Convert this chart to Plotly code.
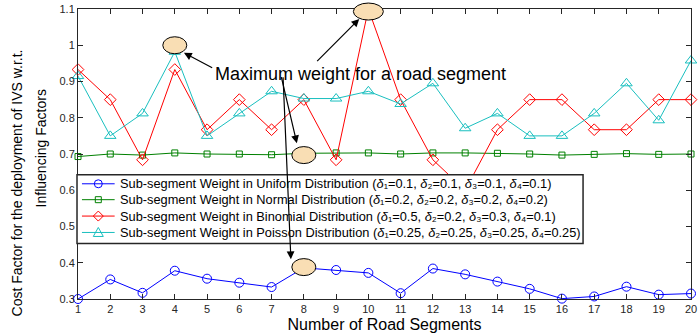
import plotly.graph_objects as go

segments = list(range(1, 21))

uniform = [0.300, 0.354, 0.317, 0.378, 0.356, 0.345, 0.333, 0.386, 0.380, 0.372,
           0.316, 0.384, 0.368, 0.348, 0.328, 0.301, 0.307, 0.334, 0.312, 0.315]
normal = [0.693, 0.700, 0.697, 0.703, 0.700, 0.700, 0.698, 0.702, 0.703, 0.703,
          0.700, 0.703, 0.703, 0.702, 0.700, 0.697, 0.699, 0.701, 0.699, 0.700]
binomial = [0.933, 0.850, 0.684, 0.933, 0.767, 0.850, 0.767, 0.850, 0.684, 1.100,
            0.850, 0.684, 0.600, 0.767, 0.850, 0.850, 0.767, 0.767, 0.850, 0.850]
poisson = [0.915, 0.750, 0.812, 0.982, 0.750, 0.812, 0.873, 0.853, 0.853, 0.873,
           0.838, 0.895, 0.771, 0.812, 0.750, 0.750, 0.812, 0.895, 0.793, 0.958]

names = [
    "Sub-segment Weight in Uniform Distribution (<i>δ</i>₁=0.1, <i>δ</i>₂=0.1, <i>δ</i>₃=0.1, <i>δ</i>₄=0.1)",
    "Sub-segment Weight in Normal Distribution (<i>δ</i>₁=0.2, <i>δ</i>₂=0.2, <i>δ</i>₃=0.2, <i>δ</i>₄=0.2)",
    "Sub-segment Weight in Binomial Distribution (<i>δ</i>₁=0.5, <i>δ</i>₂=0.2, <i>δ</i>₃=0.3, <i>δ</i>₄=0.1)",
    "Sub-segment Weight in Poisson Distribution (<i>δ</i>₁=0.25, <i>δ</i>₂=0.25, <i>δ</i>₃=0.25, <i>δ</i>₄=0.25)",
]

# highlighted maxima (ellipse markers)
circle_x = [4, 10, 8, 8]
circle_y = [1.0, 1.093, 0.697, 0.388]

# arrows: (tail_x, tail_y, head_x, head_y)
arrows = [
    (5.205, 0.936, 4.284, 0.979),
    (8.367, 0.952, 9.717, 1.0726),
    (7.292, 0.916, 7.783, 0.730),
    (7.354, 0.916, 7.599, 0.410),
]
label_text = "Maximum weight for a road segment"
label_pos = (9.75, 0.922)

XR = [1, 20]
YR = [0.3, 1.1]

W, H = 700, 333
ML, MR, MT, MB = 78, 3, 8, 33
PW, PH = W - ML - MR, H - MT - MB

FONT = "Liberation Sans, Arial, sans-serif"
NARROW = "Liberation Sans Narrow, Arial Narrow, " + FONT
AX = "#262626"


def pxx(px):
    return (px - ML) / PW


def pxy(py):
    return (H - MB - py) / PH


fig = go.Figure()
styles = [
    dict(color="#0000FF", symbol="circle-open", size=9),
    dict(color="#008000", symbol="square-open", size=6),
    dict(color="#FF0000", symbol="diamond-open", size=9),
    dict(color="#19BFBF", symbol="triangle-up-open", size=10),
]
for vals, nm, st in zip([uniform, normal, binomial, poisson], names, styles):
    fig.add_trace(go.Scatter(
        x=segments, y=vals, name=nm, mode="lines+markers",
        line=dict(color=st["color"], width=1),
        marker=dict(symbol=st["symbol"], size=st["size"], color=st["color"],
                    line=dict(width=1, color=st["color"])),
        cliponaxis=False, showlegend=False,
    ))

# ellipses in paper coordinates (so they are not clipped at the plot edge)
for cx, cy in zip(circle_x, circle_y):
    px = (cx - XR[0]) / (XR[1] - XR[0])
    py = (cy - YR[0]) / (YR[1] - YR[0])
    w = 15 if cy > 1.05 else 12
    fig.add_shape(type="circle", xref="paper", yref="paper",
                  xsizemode="pixel", ysizemode="pixel",
                  xanchor=px, yanchor=py, x0=-w, x1=w, y0=-8.5, y1=8.5,
                  fillcolor="#F9DEB4", line=dict(color="black", width=1),
                  layer="above")

# ---- custom legend (box, sample lines, markers, texts) ----
LEG_X0, LEG_X1, LEG_Y0, LEG_Y1 = 77, 588, 175, 244
row_y = [184, 200, 216.5, 233]
fig.add_shape(type="rect", xref="paper", yref="paper",
              x0=pxx(LEG_X0), x1=pxx(LEG_X1), y0=pxy(LEG_Y1), y1=pxy(LEG_Y0),
              fillcolor="white", line=dict(color=AX, width=1.5), layer="above")
marker_paths = [
    None,
    None,
    "M0,-5 L5,0 L0,5 L-5,0 Z",
    "M-5,-4 L5,-4 L0,5 Z",
]
for i, (ry, st) in enumerate(zip(row_y, styles)):
    c = st["color"]
    fig.add_shape(type="line", xref="paper", yref="paper",
                  x0=pxx(82), x1=pxx(115), y0=pxy(ry), y1=pxy(ry),
                  line=dict(color=c, width=1), layer="above")
    common = dict(xref="paper", yref="paper", xsizemode="pixel", ysizemode="pixel",
                  xanchor=pxx(98.5), yanchor=pxy(ry),
                  line=dict(color=c, width=1), fillcolor="rgba(0,0,0,0)", layer="above")
    if i == 0:
        fig.add_shape(type="circle", x0=-4, x1=4, y0=-4, y1=4, **common)
    elif i == 1:
        fig.add_shape(type="rect", x0=-3, x1=3, y0=-3, y1=3, **common)
    else:
        fig.add_shape(type="path", path=marker_paths[i], **common)
    fig.add_annotation(xref="paper", yref="paper", x=pxx(118), y=pxy(ry),
                       xanchor="left", yanchor="middle", text=names[i],
                       showarrow=False,
                       font=dict(family=FONT, size=12.8, color="black"))

fig.add_annotation(x=label_pos[0], y=label_pos[1], text=label_text,
                   showarrow=False, font=dict(family=FONT, size=18, color="black"),
                   xanchor="center", yanchor="middle")

for tx, ty, hx, hy in arrows:
    fig.add_annotation(x=hx, y=hy, ax=tx, ay=ty, axref="x", ayref="y",
                       text="", showarrow=True, arrowhead=2, arrowsize=1.3,
                       arrowwidth=1.2, arrowcolor="black")

# y-axis title as two rotated lines
fig.add_annotation(xref="paper", yref="paper", x=pxx(16), y=pxy(183),
                   xanchor="center", yanchor="middle",
                   text="Cost Factor for the deployment of IVS w.r.t.",
                   textangle=-90, showarrow=False,
                   font=dict(family=NARROW, size=14, color="black"))
fig.add_annotation(xref="paper", yref="paper", x=pxx(41), y=pxy(148),
                   xanchor="center", yanchor="middle",
                   text="Influencing Factors",
                   textangle=-90, showarrow=False,
                   font=dict(family=NARROW, size=14, color="black"))

fig.update_layout(
    width=W, height=H,
    margin=dict(l=ML, r=MR, t=MT, b=MB),
    paper_bgcolor="white", plot_bgcolor="white",
    font=dict(family=FONT, color=AX),
    showlegend=False,
    xaxis=dict(range=XR, tickmode="array", tickvals=segments, ticks="inside",
               ticklen=5, tickcolor=AX, showline=True, linecolor=AX, linewidth=1,
               mirror="ticks", showgrid=False, zeroline=False,
               ticklabeloverflow="allow",
               tickfont=dict(size=11, color=AX),
               title=dict(text="Number of Road Segments", standoff=4,
                          font=dict(family=FONT, size=16, color="black"))),
    yaxis=dict(range=YR, dtick=0.1, tick0=0.3, ticks="inside",
               ticklen=5, tickcolor=AX, showline=True, linecolor=AX, linewidth=1,
               mirror="ticks", showgrid=False, zeroline=False,
               ticklabeloverflow="allow",
               tickfont=dict(size=11, color=AX)),
)

fig.write_html("out.html", config={"displayModeBar": False},
               post_script="document.body.style.margin='0';document.body.style.overflow='hidden';")
